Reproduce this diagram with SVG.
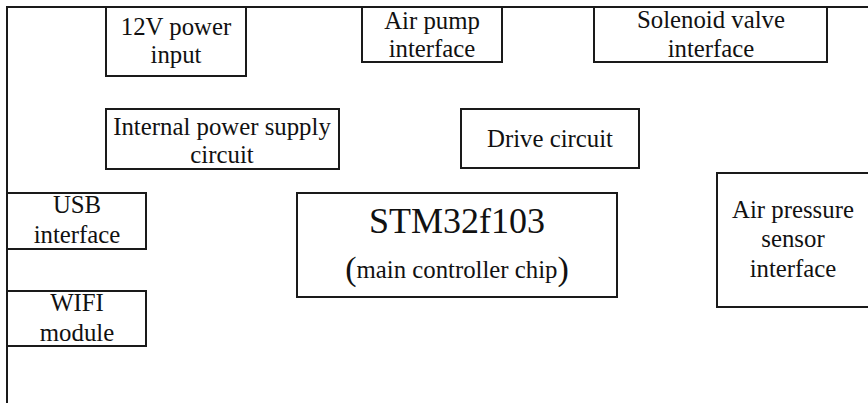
<svg xmlns="http://www.w3.org/2000/svg" width="868" height="403" viewBox="0 0 868 403">
<style>
.box{fill:#fff;stroke:#1a1a1a;stroke-width:2}
.ln{fill:none;stroke:#1a1a1a;stroke-width:2}
.t{font-family:"Liberation Serif","Times New Roman",Tinos,serif;font-size:24.8px;fill:#111;text-anchor:middle}
.big{font-size:36px}
.par{font-size:34px}
</style>
<rect width="868" height="403" fill="#fff"/>
<g id="connectors">
<path class="ln" d="M7,403 V7 H868"/>
</g>
<g class="t">
<g id="n12v"><rect class="box" x="106" y="7" width="140" height="69"/><text x="176" y="35">12V power</text><text x="176" y="63">input</text></g>
<g id="airpump"><rect class="box" x="362" y="7" width="140" height="55"/><text x="432" y="29">Air pump</text><text x="432" y="57">interface</text></g>
<g id="solenoid"><rect class="box" x="594" y="7" width="233" height="55"/><text x="711" y="28">Solenoid valve</text><text x="711" y="57">interface</text></g>
<g id="power"><rect class="box" x="106" y="109" width="233" height="60"/><text x="222" y="135">Internal power supply</text><text x="222" y="163">circuit</text></g>
<g id="drive"><rect class="box" x="461" y="109" width="178" height="59"/><text x="550" y="147">Drive circuit</text></g>
<g id="usb"><rect class="box" x="7" y="193" width="139" height="56"/><text x="77" y="213">USB</text><text x="77" y="243">interface</text></g>
<g id="wifi"><rect class="box" x="7" y="291" width="139" height="55"/><text x="77" y="311">WIFI</text><text x="77" y="341">module</text></g>
<g id="stm"><rect class="box" x="297" y="193" width="320" height="104"/><text class="big" x="457" y="233">STM32f103</text><text x="457" y="278"><tspan class="par" dy="2">(</tspan><tspan dy="-2">main controller chip</tspan><tspan class="par" dy="2">)</tspan></text></g>
<g id="sensor"><rect class="box" x="717" y="173" width="160" height="134"/><text x="793" y="218">Air pressure</text><text x="793" y="247">sensor</text><text x="793" y="277">interface</text></g>
</g>
</svg>
